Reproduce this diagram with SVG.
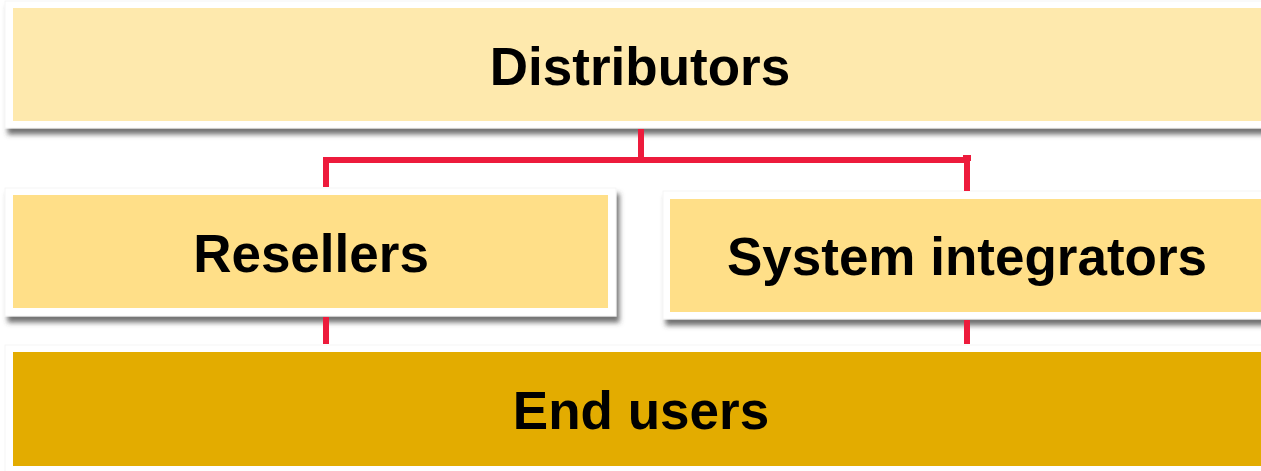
<svg xmlns="http://www.w3.org/2000/svg" width="1261" height="471" viewBox="0 0 1261 471">
<defs>
<filter id="sh" x="-5%" y="-10%" width="115%" height="130%">
<feDropShadow dx="3" dy="6" stdDeviation="2.5" flood-color="#444" flood-opacity="0.75"/>
</filter>
<style>
.frame{fill:#fff;stroke:#f5f5f5;stroke-width:1}
.lbl{font-family:"Liberation Sans",Arial,sans-serif;font-weight:bold;font-size:53px;fill:#000;text-anchor:middle}
.con{stroke:#ED1B3C;stroke-width:6;fill:none}
</style>
</defs>
<rect width="1261" height="471" fill="#fff"/>
<g id="distributors">
<rect class="frame" x="5" y="1" width="1270" height="127" filter="url(#sh)"/>
<rect x="13" y="8" width="1260" height="113" fill="#FEE9AD"/>
<text class="lbl" x="640" y="85">Distributors</text>
</g>
<g id="resellers">
<rect class="frame" x="5" y="188" width="611" height="128" filter="url(#sh)"/>
<rect x="13" y="195" width="595" height="113" fill="#FFDF88"/>
<text class="lbl" x="311" y="272">Resellers</text>
</g>
<g id="system-integrators">
<rect class="frame" x="663" y="191" width="612" height="128" filter="url(#sh)"/>
<rect x="670" y="199" width="600" height="113" fill="#FFDF88"/>
<text class="lbl" x="967" y="275">System integrators</text>
</g>
<g id="end-users">
<rect class="frame" x="5" y="345" width="1270" height="130"/>
<rect x="13" y="352" width="1260" height="114" fill="#E3AC00"/>
<text class="lbl" x="641" y="429">End users</text>
</g>
<g id="connectors">
<path class="con" d="M641 129 V160 M326 187 V160 H967 V191"/>
<rect x="963" y="155" width="8" height="6" fill="#ED1B3C"/>
<path class="con" d="M326 317 V344 M967 320 V344"/>
</g>
</svg>
